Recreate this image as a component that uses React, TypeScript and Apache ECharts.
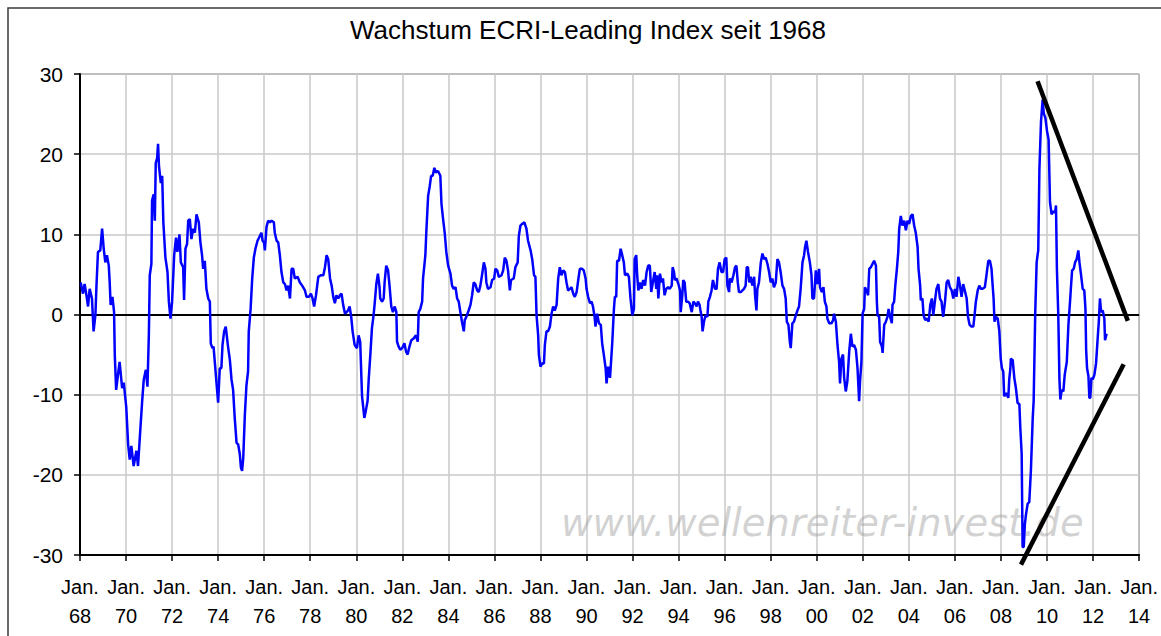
import React, { useEffect, useRef } from "react";
import * as echarts from "echarts";

// [decimal year, growth %]
const seg1968: [number, number][] = [
  [1968.03, 4.0], [1968.13, 2.6], [1968.2, 3.8], [1968.28, 2.4], [1968.35, 1.0], [1968.42, 3.2], [1968.52, 2.0],
  [1968.59, -2.1], [1968.67, 0], [1968.71, 3.2], [1968.78, 7.8], [1968.88, 8.0], [1968.96, 10.7], [1969.03, 8.2],
  [1969.1, 6.5], [1969.17, 7.4], [1969.25, 6.1], [1969.29, 4.0], [1969.33, 1.2], [1969.41, 2.2], [1969.48, 0.3],
  [1969.51, -5.0], [1969.57, -9.4], [1969.65, -7.5], [1969.72, -5.9], [1969.83, -9.2], [1969.9, -8.5],
  [1970.01, -11.6], [1970.09, -16.2], [1970.16, -18.1], [1970.23, -16.4], [1970.33, -18.9], [1970.45, -17.0],
  [1970.52, -18.9], [1970.61, -14.8], [1970.7, -10.8], [1970.77, -8.1], [1970.86, -6.9], [1970.93, -9.0],
  [1970.99, -2.6], [1971.03, 4.9], [1971.1, 6.3], [1971.13, 14.2], [1971.2, 15.0], [1971.25, 11.7],
  [1971.29, 18.9], [1971.35, 19.5], [1971.39, 21.3], [1971.43, 18.5], [1971.51, 16.4], [1971.57, 17.3],
  [1971.62, 11.5], [1971.71, 7.1], [1971.8, 5.3], [1971.86, 1.6], [1971.93, -0.5], [1972.0, 1.6], [1972.09, 7.4],
  [1972.17, 9.6], [1972.23, 7.8], [1972.32, 10.0], [1972.38, 6.5], [1972.48, 5.9], [1972.52, 1.8], [1972.58, 8.2],
  [1972.65, 8.8], [1972.7, 11.7], [1972.77, 11.9], [1972.84, 9.4], [1972.91, 10.7], [1972.99, 10.2],
  [1973.06, 12.5], [1973.16, 11.5], [1973.23, 9.0], [1973.3, 7.4], [1973.35, 5.7], [1973.42, 6.7], [1973.49, 3.2],
  [1973.57, 2.0], [1973.64, 1.6], [1973.68, -3.6], [1973.75, -4.2], [1973.8, -4.0], [1973.86, -6.1],
  [1973.93, -8.6], [1974.0, -11.0], [1974.07, -6.7], [1974.14, -6.7], [1974.19, -3.8], [1974.26, -2.1],
  [1974.33, -1.5], [1974.43, -4.0], [1974.51, -5.7], [1974.58, -8.1], [1974.65, -9.4], [1974.72, -12.9],
  [1974.8, -16.0], [1974.87, -16.2], [1974.94, -17.4], [1974.99, -19.1], [1975.04, -19.5], [1975.09, -17.9],
  [1975.16, -12.5], [1975.23, -8.8], [1975.3, -7.1], [1975.33, -2.1], [1975.41, 0.7], [1975.48, 4.5],
  [1975.55, 7.1], [1975.62, 8.2], [1975.71, 9.2], [1975.78, 9.6], [1975.88, 10.2], [1975.93, 9.2], [1975.99, 9.0],
  [1976.03, 8.0], [1976.1, 10.9], [1976.17, 11.7], [1976.25, 11.5], [1976.32, 11.7], [1976.42, 11.5],
  [1976.46, 10.2], [1976.54, 9.2], [1976.61, 9.0], [1976.68, 7.4], [1976.75, 5.3], [1976.83, 4.0], [1976.9, 3.8],
  [1976.97, 3.0], [1977.04, 3.6], [1977.12, 2.0], [1977.19, 5.7], [1977.26, 5.7], [1977.33, 4.5], [1977.45, 4.7],
  [1977.55, 4.0], [1977.65, 3.6], [1977.77, 3.0], [1977.84, 2.2], [1977.94, 2.2], [1978.03, 2.6], [1978.1, 2.0],
  [1978.17, 1.0], [1978.25, 2.4], [1978.35, 4.7], [1978.46, 4.9], [1978.57, 4.9], [1978.64, 5.9], [1978.71, 7.4],
  [1978.78, 6.9], [1978.86, 4.5], [1978.93, 3.6], [1979.0, 2.2], [1979.07, 1.4], [1979.14, 2.4], [1979.22, 2.0],
  [1979.29, 2.4], [1979.36, 2.6], [1979.43, 1.2], [1979.51, 0.1], [1979.58, 0.3],
];

const seg1980: [number, number][] = [
  [1979.64, 0.5], [1979.71, 1.0], [1979.78, -0.3], [1979.84, -2.1], [1979.93, -3.8], [1980.03, -4.2],
  [1980.1, -2.6], [1980.17, -3.4], [1980.25, -10.2], [1980.35, -12.9], [1980.42, -11.9], [1980.49, -10.8],
  [1980.54, -8.1], [1980.61, -5.0], [1980.68, -1.7], [1980.75, -0.1], [1980.8, 1.4], [1980.87, 3.8],
  [1980.94, 5.1], [1981.01, 3.4], [1981.04, 2.0], [1981.12, 1.6], [1981.19, 2.0], [1981.23, 4.0], [1981.3, 6.1],
  [1981.38, 5.5], [1981.45, 3.4], [1981.52, 1.0], [1981.59, 0.3], [1981.67, 1.0], [1981.74, 0.3], [1981.77, -3.4],
  [1981.84, -4.0], [1981.91, -4.4], [1981.99, -4.2], [1982.09, -3.6], [1982.16, -4.6], [1982.23, -5.0],
  [1982.31, -4.0], [1982.39, -3.2], [1982.49, -3.0], [1982.59, -2.6], [1982.67, -3.4], [1982.71, 0.3],
  [1982.78, 0.7], [1982.86, 1.6], [1982.9, 4.5], [1982.97, 6.5], [1983.0, 7.4], [1983.04, 10.2], [1983.12, 14.8],
  [1983.19, 16.0], [1983.25, 17.3], [1983.32, 17.3], [1983.39, 18.3], [1983.46, 17.7], [1983.55, 17.9],
  [1983.65, 17.3], [1983.7, 13.8], [1983.77, 11.9], [1983.84, 10.2], [1983.91, 7.8], [1983.99, 6.1],
  [1984.09, 5.1], [1984.16, 3.6], [1984.23, 3.2], [1984.31, 3.4], [1984.38, 2.0], [1984.45, 1.6], [1984.52, 0.3],
  [1984.59, -0.9], [1984.67, -2.1], [1984.71, -0.7], [1984.78, -0.3], [1984.88, 0.5], [1984.96, 1.2],
  [1985.03, 2.4], [1985.1, 4.0], [1985.17, 3.8], [1985.25, 3.0], [1985.32, 2.8], [1985.39, 3.6], [1985.46, 4.9],
  [1985.54, 6.5], [1985.61, 5.7], [1985.65, 4.0], [1985.72, 3.2], [1985.83, 3.4], [1985.9, 4.3], [1985.99, 4.5],
  [1986.04, 5.7], [1986.12, 5.5], [1986.19, 4.7], [1986.31, 4.9], [1986.38, 5.5], [1986.45, 7.1], [1986.52, 6.7],
  [1986.59, 5.5], [1986.67, 3.0], [1986.72, 4.3], [1986.84, 4.5], [1986.91, 5.9], [1987.01, 6.5], [1987.06, 9.8],
  [1987.13, 11.1], [1987.2, 11.3], [1987.3, 11.5], [1987.39, 10.7], [1987.46, 9.2], [1987.57, 8.0],
  [1987.64, 6.9], [1987.72, 4.9], [1987.78, 4.7], [1987.83, -0.1], [1987.9, -2.6], [1987.93, -5.0],
  [1988.0, -6.5], [1988.07, -6.1], [1988.15, -6.1], [1988.19, -3.8], [1988.26, -2.1], [1988.33, -2.1],
  [1988.41, -1.5], [1988.48, 0.1], [1988.55, 1.0], [1988.62, 0.5], [1988.7, 1.2], [1988.77, 4.5], [1988.84, 5.9],
  [1988.91, 4.9], [1988.99, 5.5], [1989.06, 5.3], [1989.13, 4.0], [1989.2, 3.0], [1989.28, 3.2], [1989.35, 3.4],
  [1989.42, 2.6], [1989.49, 2.2], [1989.57, 2.8], [1989.64, 4.3], [1989.71, 5.7], [1989.81, 5.7], [1989.88, 5.5],
  [1989.96, 4.5], [1990.0, 3.2], [1990.07, 2.2], [1990.15, 1.4], [1990.22, 1.6], [1990.28, 1.0], [1990.35, -0.3],
  [1990.39, -1.5], [1990.46, 0.1], [1990.54, -1.1], [1990.62, -1.3], [1990.68, -3.6], [1990.75, -5.0],
  [1990.83, -6.7], [1990.87, -8.6], [1990.94, -6.5], [1991.02, -7.9], [1991.07, -5.7], [1991.12, -3.4],
  [1991.19, 0.7], [1991.23, 2.2],
];

const seg1991: [number, number][] = [
  [1991.29, 2.2], [1991.33, 6.7], [1991.41, 6.7], [1991.48, 8.2], [1991.55, 7.4], [1991.62, 6.5], [1991.67, 4.9],
  [1991.77, 5.1], [1991.84, 4.7], [1991.91, 2.0], [1991.99, -0.1], [1992.06, 0.7], [1992.09, 6.9], [1992.16, 7.4],
  [1992.2, 4.9], [1992.25, 3.0], [1992.32, 4.0], [1992.39, 3.2], [1992.46, 4.3], [1992.54, 3.6], [1992.61, 5.3],
  [1992.68, 6.1], [1992.75, 6.1], [1992.81, 2.8], [1992.88, 4.0], [1992.96, 5.3], [1993.03, 3.2], [1993.07, 4.9],
  [1993.12, 2.0], [1993.19, 5.1], [1993.26, 4.0], [1993.32, 4.5], [1993.39, 2.4], [1993.46, 3.2], [1993.54, 3.4],
  [1993.61, 3.2], [1993.7, 3.6], [1993.74, 5.9], [1993.8, 5.3], [1993.84, 4.3], [1993.91, 4.5], [1993.99, 3.8],
  [1994.06, 3.0], [1994.09, 0.3], [1994.16, 2.4], [1994.2, 4.3], [1994.26, 4.0], [1994.33, 1.6], [1994.41, 1.6],
  [1994.48, 1.4], [1994.57, 0.3], [1994.64, 1.6], [1994.71, 1.4], [1994.78, 1.0], [1994.84, 1.6], [1994.91, 1.2],
  [1994.96, 0.3], [1995.0, -0.3], [1995.04, -2.1], [1995.1, -0.9], [1995.17, -0.1], [1995.25, -0.3],
  [1995.29, 1.6], [1995.36, 2.2], [1995.43, 3.0], [1995.49, 4.3], [1995.58, 3.2], [1995.65, 3.2], [1995.71, 5.7],
  [1995.78, 6.5], [1995.86, 5.3], [1995.93, 5.3], [1996.0, 6.9], [1996.07, 7.1], [1996.12, 3.6], [1996.19, 2.8],
  [1996.23, 4.5], [1996.3, 4.0], [1996.38, 4.9], [1996.45, 5.9], [1996.51, 6.1], [1996.57, 4.0], [1996.62, 2.8],
  [1996.7, 2.8], [1996.77, 3.0], [1996.84, 3.2], [1996.91, 3.6], [1996.96, 5.9], [1997.01, 5.9], [1997.07, 4.0],
  [1997.13, 4.7], [1997.2, 3.6], [1997.28, 4.7], [1997.32, 2.4], [1997.38, 0.5], [1997.42, 3.2], [1997.49, 4.0],
  [1997.57, 6.5], [1997.64, 7.6], [1997.71, 6.9], [1997.78, 7.1], [1997.86, 6.3], [1997.93, 5.3], [1998.0, 4.0],
  [1998.07, 4.5], [1998.14, 3.4], [1998.22, 4.0], [1998.29, 6.9], [1998.36, 6.5], [1998.43, 5.3], [1998.51, 3.6],
  [1998.58, 3.2], [1998.65, 2.0], [1998.7, -0.9], [1998.77, -1.3], [1998.83, -3.4], [1998.87, -4.2],
  [1998.94, -1.1], [1999.01, -0.9], [1999.09, -0.1], [1999.16, 0.5], [1999.23, 1.0], [1999.3, 3.2],
  [1999.38, 6.5], [1999.45, 7.4], [1999.49, 8.4], [1999.55, 9.2], [1999.62, 7.8], [1999.7, 6.5], [1999.77, 4.9],
  [1999.81, 2.0], [1999.88, 2.0], [1999.96, 5.5], [2000.03, 3.8], [2000.1, 5.7], [2000.14, 3.4], [2000.22, 2.8],
  [2000.29, 3.4], [2000.35, 1.6], [2000.42, 1.0], [2000.46, -0.5], [2000.54, -1.1], [2000.64, -1.1],
  [2000.71, -0.7], [2000.75, 0.1], [2000.83, -0.9], [2000.9, -3.8], [2000.97, -5.9], [2001.01, -8.6],
  [2001.07, -5.5], [2001.14, -5.0], [2001.19, -7.9], [2001.26, -9.6], [2001.33, -8.3], [2001.41, -4.6],
  [2001.48, -2.4], [2001.55, -4.0], [2001.62, -3.8], [2001.7, -4.4], [2001.77, -6.7], [2001.84, -10.8],
  [2001.88, -8.3], [2001.94, -5.9], [2001.99, 0.1], [2002.06, 0.7], [2002.09, 3.4], [2002.16, 3.0],
  [2002.23, 2.4], [2002.28, 5.7], [2002.35, 5.9], [2002.42, 6.3], [2002.49, 6.7], [2002.57, 6.1], [2002.61, 1.6],
];

const seg2002: [number, number][] = [
  [2002.64, -0.1], [2002.71, -0.3], [2002.75, -3.4], [2002.83, -4.0], [2002.86, -4.8], [2002.93, -1.3],
  [2003.0, -0.9], [2003.07, -0.3], [2003.12, 0.7], [2003.19, -0.3], [2003.26, -1.1], [2003.29, 1.2],
  [2003.36, 1.6], [2003.41, 3.6], [2003.48, 5.7], [2003.54, 7.8], [2003.58, 10.7], [2003.65, 12.3],
  [2003.72, 11.1], [2003.8, 11.7], [2003.87, 10.5], [2003.94, 11.7], [2004.01, 11.3], [2004.09, 12.3],
  [2004.16, 12.5], [2004.23, 11.1], [2004.3, 10.2], [2004.38, 8.4], [2004.42, 5.7], [2004.49, 3.6],
  [2004.52, 1.8], [2004.59, 2.0], [2004.64, -0.1], [2004.71, -0.7], [2004.78, -0.5], [2004.86, -0.9],
  [2004.93, 1.2], [2005.0, 2.0], [2005.06, -0.1], [2005.13, 1.6], [2005.2, 3.2], [2005.28, 3.8], [2005.35, 2.0],
  [2005.42, 1.6], [2005.49, -0.3], [2005.57, 1.6], [2005.64, 4.0], [2005.71, 4.3], [2005.78, 3.4], [2005.86, 3.0],
  [2005.93, 2.0], [2006.0, 3.2], [2006.07, 2.2], [2006.15, 4.7], [2006.22, 3.6], [2006.29, 2.2], [2006.36, 3.8],
  [2006.43, 3.0], [2006.51, 2.0], [2006.57, -0.3], [2006.64, -1.3], [2006.72, -1.5], [2006.8, -1.5],
  [2006.86, 0.1], [2006.91, 1.6], [2006.99, 3.0], [2007.06, 3.6], [2007.13, 3.2], [2007.2, 3.2], [2007.3, 3.4],
  [2007.38, 5.1], [2007.45, 6.7], [2007.52, 6.7], [2007.59, 5.7], [2007.64, 3.6], [2007.68, 2.0], [2007.72, -0.9],
  [2007.78, -0.3], [2007.86, -0.5], [2007.93, -2.1], [2007.99, -5.5], [2008.04, -6.7], [2008.1, -7.1],
  [2008.14, -10.2], [2008.22, -9.8], [2008.26, -10.0], [2008.32, -10.4], [2008.36, -8.1], [2008.41, -6.7],
  [2008.43, -5.5], [2008.51, -5.7], [2008.58, -7.9], [2008.65, -9.2], [2008.72, -11.0], [2008.8, -11.2],
  [2008.84, -14.1], [2008.9, -17.4], [2008.94, -29.0], [2008.99, -29.0], [2009.04, -26.1], [2009.09, -24.9],
  [2009.16, -23.6], [2009.23, -23.4], [2009.3, -19.5], [2009.38, -12.9], [2009.42, -10.8], [2009.49, 0.3],
  [2009.55, 6.5], [2009.59, 7.4], [2009.62, 8.0], [2009.67, 18.1], [2009.74, 24.1], [2009.81, 26.8],
  [2009.86, 25.1], [2009.93, 24.5], [2010.0, 22.9], [2010.07, 21.8], [2010.13, 14.0], [2010.2, 12.5],
  [2010.28, 12.9], [2010.35, 12.7], [2010.39, 13.6], [2010.43, 5.7], [2010.49, -0.1], [2010.54, -8.1],
  [2010.58, -10.6], [2010.64, -9.4], [2010.71, -9.6], [2010.77, -7.5], [2010.86, -5.9], [2010.93, -1.3],
  [2011.0, 1.6], [2011.04, 3.4], [2011.09, 5.5], [2011.16, 5.7], [2011.22, 6.5], [2011.29, 6.9], [2011.36, 8.0],
  [2011.41, 6.5], [2011.48, 4.9], [2011.55, 3.2], [2011.62, 3.0], [2011.67, 0.7], [2011.7, -4.4], [2011.74, -6.7],
  [2011.8, -7.7], [2011.84, -10.4], [2011.88, -10.4], [2011.93, -7.9], [2011.99, -8.1], [2012.06, -7.5],
  [2012.13, -6.1], [2012.2, -3.0], [2012.25, -0.9], [2012.3, 2.0], [2012.35, 0.3], [2012.42, 0.5],
  [2012.49, -0.5], [2012.52, -3.2], [2012.59, -2.4],
];

const ecriGrowth = [...seg1968, ...seg1980, ...seg1991, ...seg2002];

// hand-drawn trend lines (data coordinates)
const upperTrend: [number, number][] = [[2009.59, 29.1], [2013.51, -0.8]];
const lowerTrend: [number, number][] = [[2008.87, -31.2], [2013.33, -6.2]];

const yearTicks = [1968, 2014, 2];
const valueTicks = [-30, 30, 10];
const titleText = "Wachstum ECRI-Leading Index seit 1968";
const watermarkText = "www.wellenreiter-invest.de";

const FONT = "'Liberation Sans', Arial, sans-serif";

export default function App() {
  const ref = useRef<HTMLDivElement>(null);
  useEffect(() => {
    if (!ref.current) return;
    const chart = echarts.init(ref.current, undefined, { renderer: "svg" });
    chart.setOption({
      animation: false,
      backgroundColor: "#ffffff",
      grid: {
        left: 80,
        right: 21,
        top: 74,
        bottom: 81,
        show: true,
        borderColor: "#404040",
        borderWidth: 1,
        backgroundColor: "transparent",
      },
      graphic: [
        {
          type: "rect",
          shape: { x: 8, y: 8, width: 1180, height: 660 },
          style: { fill: "none", stroke: "#3a3a3a", lineWidth: 1.5 },
          silent: true,
          z: 0,
        },
        {
          type: "text",
          x: 588,
          y: 30,
          style: {
            text: titleText,
            fill: "#000",
            font: `normal 26px ${FONT}`,
            textAlign: "center",
            textVerticalAlign: "middle",
          },
          z: 5,
        },
        {
          type: "text",
          x: 561,
          y: 522,
          style: {
            text: watermarkText,
            fill: "rgba(165,165,165,0.5)",
            font: `italic 38.5px 'DejaVu Sans', sans-serif`,
            textAlign: "left",
            textVerticalAlign: "middle",
            shadowColor: "rgba(120,120,120,0.5)",
            shadowBlur: 3,
          },
          silent: true,
          z: 1,
        },
      ],
      xAxis: {
        type: "value",
        min: yearTicks[0],
        max: yearTicks[1],
        interval: yearTicks[2],
        axisLine: { show: true, onZero: false, lineStyle: { color: "#000", width: 2 } },
        axisTick: { show: true, length: 6, lineStyle: { color: "#000", width: 1.5 } },
        axisLabel: {
          margin: 17,
          color: "#000",
          fontFamily: FONT,
          fontSize: 20,
          lineHeight: 29.5,
          showMinLabel: true,
          showMaxLabel: true,
          formatter: (v: number) => "Jan.\n" + String(v % 100).padStart(2, "0"),
        },
        splitLine: { show: true, lineStyle: { color: "#c8c8c8", width: 1.5 } },
      },
      yAxis: {
        type: "value",
        min: valueTicks[0],
        max: valueTicks[1],
        interval: valueTicks[2],
        axisLine: { show: true, onZero: false, lineStyle: { color: "#000", width: 2 } },
        axisTick: { show: true, length: 6, lineStyle: { color: "#000", width: 1.5 } },
        axisLabel: { margin: 17, color: "#000", fontFamily: FONT, fontSize: 21 },
        splitLine: { show: true, lineStyle: { color: "#c8c8c8", width: 1.5 } },
      },
      series: [
        {
          type: "line",
          name: "ECRI Growth",
          data: ecriGrowth,
          showSymbol: false,
          symbol: "none",
          lineStyle: { color: "#0000ff", width: 2.5 },
          z: 3,
          markLine: {
            silent: true,
            symbol: "none",
            label: { show: false },
            lineStyle: { color: "#000", width: 2, type: "solid" },
            data: [{ yAxis: 0 }],
            z: 2,
          },
        },
        {
          type: "line",
          name: "upper",
          data: upperTrend,
          symbol: "none",
          clip: false,
          lineStyle: { color: "#000", width: 4.5 },
          z: 4,
        },
        {
          type: "line",
          name: "lower",
          data: lowerTrend,
          symbol: "none",
          clip: false,
          lineStyle: { color: "#000", width: 4.5 },
          z: 4,
        },
      ],
    });
    return () => chart.dispose();
  }, []);
  return (
    <div
      ref={ref}
      style={{ position: "fixed", left: 0, top: 0, width: 1161, height: 636, background: "#fff" }}
    />
  );
}
